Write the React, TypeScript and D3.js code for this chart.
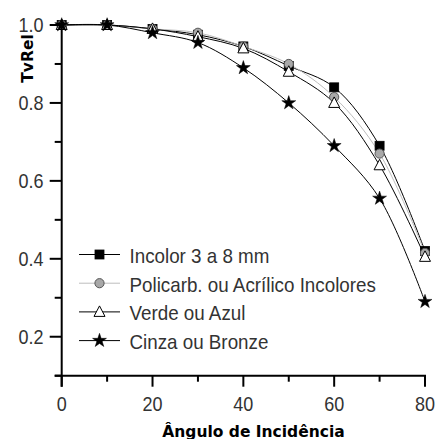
import React from "react";
import * as d3 from "d3";

const angles = [0, 10, 20, 30, 40, 50, 60, 70, 80];
const incolor = [1.0, 1.0, 0.99, 0.975, 0.945, 0.895, 0.84, 0.69, 0.42];
const policarb = [1.0, 1.0, 0.99, 0.98, 0.945, 0.9, 0.815, 0.67, 0.415];
const verde = [1.0, 1.0, 0.99, 0.97, 0.94, 0.88, 0.8, 0.64, 0.405];
const cinza = [1.0, 1.0, 0.98, 0.955, 0.89, 0.8, 0.69, 0.555, 0.29];
const seriesNames = [
  "Incolor 3 a 8 mm",
  "Policarb. ou Acrílico Incolores",
  "Verde ou Azul",
  "Cinza ou Bronze",
];
const xMajor = [0, 20, 40, 60, 80];
const xMinor = [10, 30, 50, 70];
const yMajor = [0.2, 0.4, 0.6, 0.8, 1.0];
const yMinor = [0.1, 0.3, 0.5, 0.7, 0.9];

const W = 436;
const H = 439;
const x = d3.scaleLinear().domain([0, 80]).range([61.7, 425]);
const y = d3.scaleLinear().domain([0.1, 1.0]).range([375.7, 25]);

const FONT = "'Liberation Sans', Arial, sans-serif";
const BOLD = "'DejaVu Sans', sans-serif";
const TXT = "#333";

type Marker = "square" | "circle" | "triangle" | "star";

function MarkerShape({ kind, cx, cy }: { kind: Marker; cx: number; cy: number }) {
  if (kind === "square") {
    return <rect x={cx - 4.5} y={cy - 4.5} width={9} height={9} fill="#000" stroke="#000" strokeWidth={0.8} />;
  }
  if (kind === "circle") {
    return <circle cx={cx} cy={cy} r={4.6} fill="#a8a8a8" stroke="#555" strokeWidth={1} />;
  }
  if (kind === "triangle") {
    const p = d3.path();
    p.moveTo(cx, cy - 6);
    p.lineTo(cx + 5.5, cy + 4.5);
    p.lineTo(cx - 5.5, cy + 4.5);
    p.closePath();
    return <path d={p.toString()} fill="#fff" stroke="#000" strokeWidth={1} />;
  }
  const s = d3.symbol().type(d3.symbolStar).size(60)();
  return <path d={s || ""} transform={`translate(${cx},${cy})`} fill="#000" stroke="#000" strokeWidth={0.5} />;
}

const series: { name: string; values: number[]; color: string; marker: Marker }[] = [
  { name: seriesNames[0], values: incolor, color: "#000", marker: "square" },
  { name: seriesNames[1], values: policarb, color: "#bdbdbd", marker: "circle" },
  { name: seriesNames[2], values: verde, color: "#000", marker: "triangle" },
  { name: seriesNames[3], values: cinza, color: "#000", marker: "star" },
];

export default function App() {
  const line = d3
    .line<number>()
    .x((_, i) => x(angles[i]))
    .y((v) => y(v))
    .curve(d3.curveCatmullRom.alpha(0.5));

  const legendRows = [254.5, 283.2, 311.9, 340.6];

  return (
    <svg width={W} height={H} style={{ position: "absolute", left: 0, top: 0, background: "#fff" }}>
      <rect width={W} height={H} fill="#fff" />
      {series.map((s) => (
        <path key={s.name + "l"} d={line(s.values) || ""} fill="none" stroke={s.color} strokeWidth={1} />
      ))}
      {series.map((s) =>
        s.values.map((v, i) => (
          <MarkerShape key={s.name + i} kind={s.marker} cx={x(angles[i])} cy={y(v)} />
        ))
      )}
      <g stroke="#000" strokeWidth={2} fill="none">
        <line x1={x(0)} x2={x(0)} y1={y(1.0) - 1} y2={y(0.1) + 11} />
        <line x1={x(0) - 7} x2={x(80) + 1} y1={y(0.1)} y2={y(0.1)} />
        {xMajor.map((t) => (
          <line key={"xM" + t} x1={x(t)} x2={x(t)} y1={y(0.1)} y2={y(0.1) + 11} />
        ))}
        {xMinor.map((t) => (
          <line key={"xm" + t} x1={x(t)} x2={x(t)} y1={y(0.1)} y2={y(0.1) + 6} />
        ))}
        {yMajor.map((t) => (
          <line key={"yM" + t} x1={x(0) - 12} x2={x(0)} y1={y(t)} y2={y(t)} />
        ))}
        {yMinor.map((t) => (
          <line key={"ym" + t} x1={x(0) - 7} x2={x(0)} y1={y(t)} y2={y(t)} />
        ))}
      </g>
      {yMajor.map((t) => (
        <text
          key={"yl" + t}
          transform={`translate(43.5,${y(t) + 7}) scale(0.9,1)`}
          textAnchor="end"
          fontFamily={FONT}
          fontSize={20}
          fill={TXT}
        >
          {t.toFixed(1)}
        </text>
      ))}
      {xMajor.map((t) => (
        <text
          key={"xl" + t}
          transform={`translate(${x(t)},411) scale(0.9,1)`}
          textAnchor="middle"
          fontFamily={FONT}
          fontSize={20}
          fill={TXT}
        >
          {t}
        </text>
      ))}
      <text
        x={253.5}
        y={436.5}
        textAnchor="middle"
        fontFamily={BOLD}
        fontWeight="bold"
        fontSize={15.5}
        fill="#000"
      >
        Ângulo de Incidência
      </text>
      <text
        transform="translate(33,58.5) rotate(-90)"
        textAnchor="middle"
        fontFamily={BOLD}
        fontWeight="bold"
        fontSize={15.5}
        fill="#000"
      >
        TvRel
      </text>
      {series.map((s, i) => (
        <g key={s.name + "lg"}>
          <line x1={79} x2={120} y1={legendRows[i]} y2={legendRows[i]} stroke={s.color} strokeWidth={1} />
          <MarkerShape kind={s.marker} cx={99.5} cy={legendRows[i]} />
          <text
            transform={`translate(129.5,${legendRows[i] + 8.5}) scale(0.94,1)`}
            fontFamily={FONT}
            fontSize={20}
            fill={TXT}
          >
            {s.name}
          </text>
        </g>
      ))}
    </svg>
  );
}
